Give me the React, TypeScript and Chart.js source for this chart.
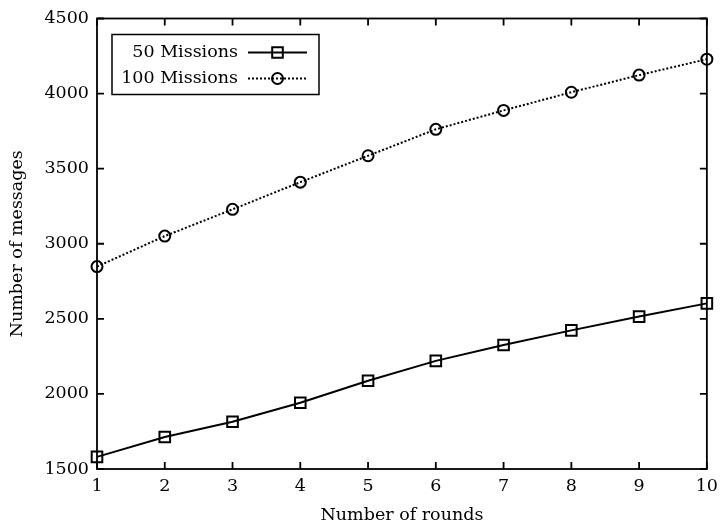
import { useEffect, useRef } from "react";
import { Chart, registerables } from "chart.js";

Chart.register(...registerables);

const rounds = [1, 2, 3, 4, 5, 6, 7, 8, 9, 10];
const missions50 = [1581, 1713, 1815, 1941, 2088, 2220, 2326, 2423, 2515, 2603];
const missions100 = [2848, 3051, 3229, 3410, 3586, 3762, 3888, 4009, 4123, 4229];
const seriesLabels = ["50 Missions", "100 Missions"];
const xTitle = "Number of rounds";
const yTitle = "Number of messages";
const yMin = 1500;
const yMax = 4500;
const yStep = 500;

const FONT = "'DejaVu Serif', serif";
const FONT_SIZE = 17.5;

const frameAndTicks = {
  id: "frameAndTicks",
  afterDraw(chart: any) {
    const { ctx, chartArea } = chart;
    const { left, right, top, bottom } = chartArea;
    const xs = chart.scales.x;
    const ys = chart.scales.y;
    const len = 7;
    ctx.save();
    ctx.strokeStyle = "#000";
    ctx.lineWidth = 1.8;
    ctx.strokeRect(left, top, right - left, bottom - top);
    ctx.beginPath();
    xs.ticks.forEach((_t: any, i: number) => {
      const px = xs.getPixelForTick(i);
      ctx.moveTo(px, bottom);
      ctx.lineTo(px, bottom - len);
      ctx.moveTo(px, top);
      ctx.lineTo(px, top + len);
    });
    ys.ticks.forEach((_t: any, i: number) => {
      const py = ys.getPixelForTick(i);
      ctx.moveTo(left, py);
      ctx.lineTo(left + len, py);
      ctx.moveTo(right, py);
      ctx.lineTo(right - len, py);
    });
    ctx.stroke();
    ctx.restore();
  },
};

const boxLegend = {
  id: "boxLegend",
  afterDraw(chart: any) {
    const { ctx, chartArea } = chart;
    const bx = chartArea.left + 15;
    const by = chartArea.top + 16;
    const bw = 207;
    const bh = 60;
    ctx.save();
    ctx.fillStyle = "#fff";
    ctx.fillRect(bx, by, bw, bh);
    ctx.strokeStyle = "#000";
    ctx.lineWidth = 1.5;
    ctx.strokeRect(bx, by, bw, bh);
    ctx.font = `${FONT_SIZE}px ${FONT}`;
    ctx.textAlign = "right";
    ctx.textBaseline = "middle";
    chart.data.datasets.forEach((ds: any, i: number) => {
      const cy = by + 18 + i * 26;
      ctx.fillStyle = "#000";
      ctx.fillText(ds.label, bx + 126, cy);
      const x0 = bx + 136;
      const x1 = bx + 195;
      ctx.beginPath();
      ctx.setLineDash(ds.borderDash || []);
      ctx.lineWidth = ds.borderWidth;
      ctx.moveTo(x0, cy);
      ctx.lineTo(x1, cy);
      ctx.stroke();
      ctx.setLineDash([]);
      const mx = (x0 + x1) / 2;
      const r = ds.pointRadius;
      ctx.lineWidth = ds.pointBorderWidth;
      ctx.beginPath();
      if (ds.pointStyle === "rect") {
        const s = r * Math.SQRT2;
        ctx.rect(mx - s / 2, cy - s / 2, s, s);
      } else {
        ctx.arc(mx, cy, r, 0, Math.PI * 2);
      }
      ctx.stroke();
    });
    ctx.restore();
  },
};

export default function App() {
  const ref = useRef<HTMLCanvasElement | null>(null);

  useEffect(() => {
    if (!ref.current) return;
    const chart = new Chart(ref.current, {
      type: "line",
      data: {
        datasets: [
          {
            label: seriesLabels[0],
            data: rounds.map((r, i) => ({ x: r, y: missions50[i] })),
            borderColor: "#000",
            borderWidth: 2,
            pointStyle: "rect",
            pointRadius: 7.5,
            pointBorderWidth: 2,
            pointBorderColor: "#000",
            pointBackgroundColor: "rgba(0,0,0,0)",
            fill: false,
            tension: 0,
            clip: false,
          },
          {
            label: seriesLabels[1],
            data: rounds.map((r, i) => ({ x: r, y: missions100[i] })),
            borderColor: "#000",
            borderWidth: 2,
            borderDash: [2, 2],
            pointStyle: "circle",
            pointRadius: 5.5,
            pointBorderWidth: 2,
            pointBorderColor: "#000",
            pointBackgroundColor: "rgba(0,0,0,0)",
            fill: false,
            tension: 0,
            clip: false,
          },
        ],
      },
      options: {
        responsive: false,
        animation: false,
        layout: { padding: { left: 0, right: 11, top: 15, bottom: 0 } },
        plugins: {
          legend: { display: false },
          tooltip: { enabled: false },
        },
        scales: {
          x: {
            type: "linear",
            min: rounds[0],
            max: rounds[rounds.length - 1],
            grid: { drawOnChartArea: false, drawTicks: false },
            border: { display: false },
            ticks: {
              stepSize: 1,
              padding: 7,
              color: "#000",
              font: { family: FONT, size: FONT_SIZE },
              callback: (v: any) => String(v),
            },
            title: {
              display: true,
              text: xTitle,
              color: "#000",
              font: { family: FONT, size: FONT_SIZE },
              padding: { top: 4, bottom: 1 },
            },
            afterFit: (s: any) => {
              s.height = 58;
            },
          },
          y: {
            type: "linear",
            min: yMin,
            max: yMax,
            grid: { drawOnChartArea: false, drawTicks: false },
            border: { display: false },
            ticks: {
              stepSize: yStep,
              padding: 8,
              color: "#000",
              font: { family: FONT, size: FONT_SIZE },
              callback: (v: any) => String(v),
            },
            title: {
              display: true,
              text: yTitle,
              color: "#000",
              font: { family: FONT, size: FONT_SIZE },
              padding: { top: 7, bottom: 4 },
            },
            afterFit: (s: any) => {
              s.width = 97;
            },
          },
        },
      },
      plugins: [frameAndTicks, boxLegend],
    } as any);
    return () => chart.destroy();
  }, []);

  return (
    <div style={{ position: "absolute", left: 0, top: 0, width: 725, height: 527, background: "#fff" }}>
      <canvas ref={ref} width={725} height={527} />
    </div>
  );
}
